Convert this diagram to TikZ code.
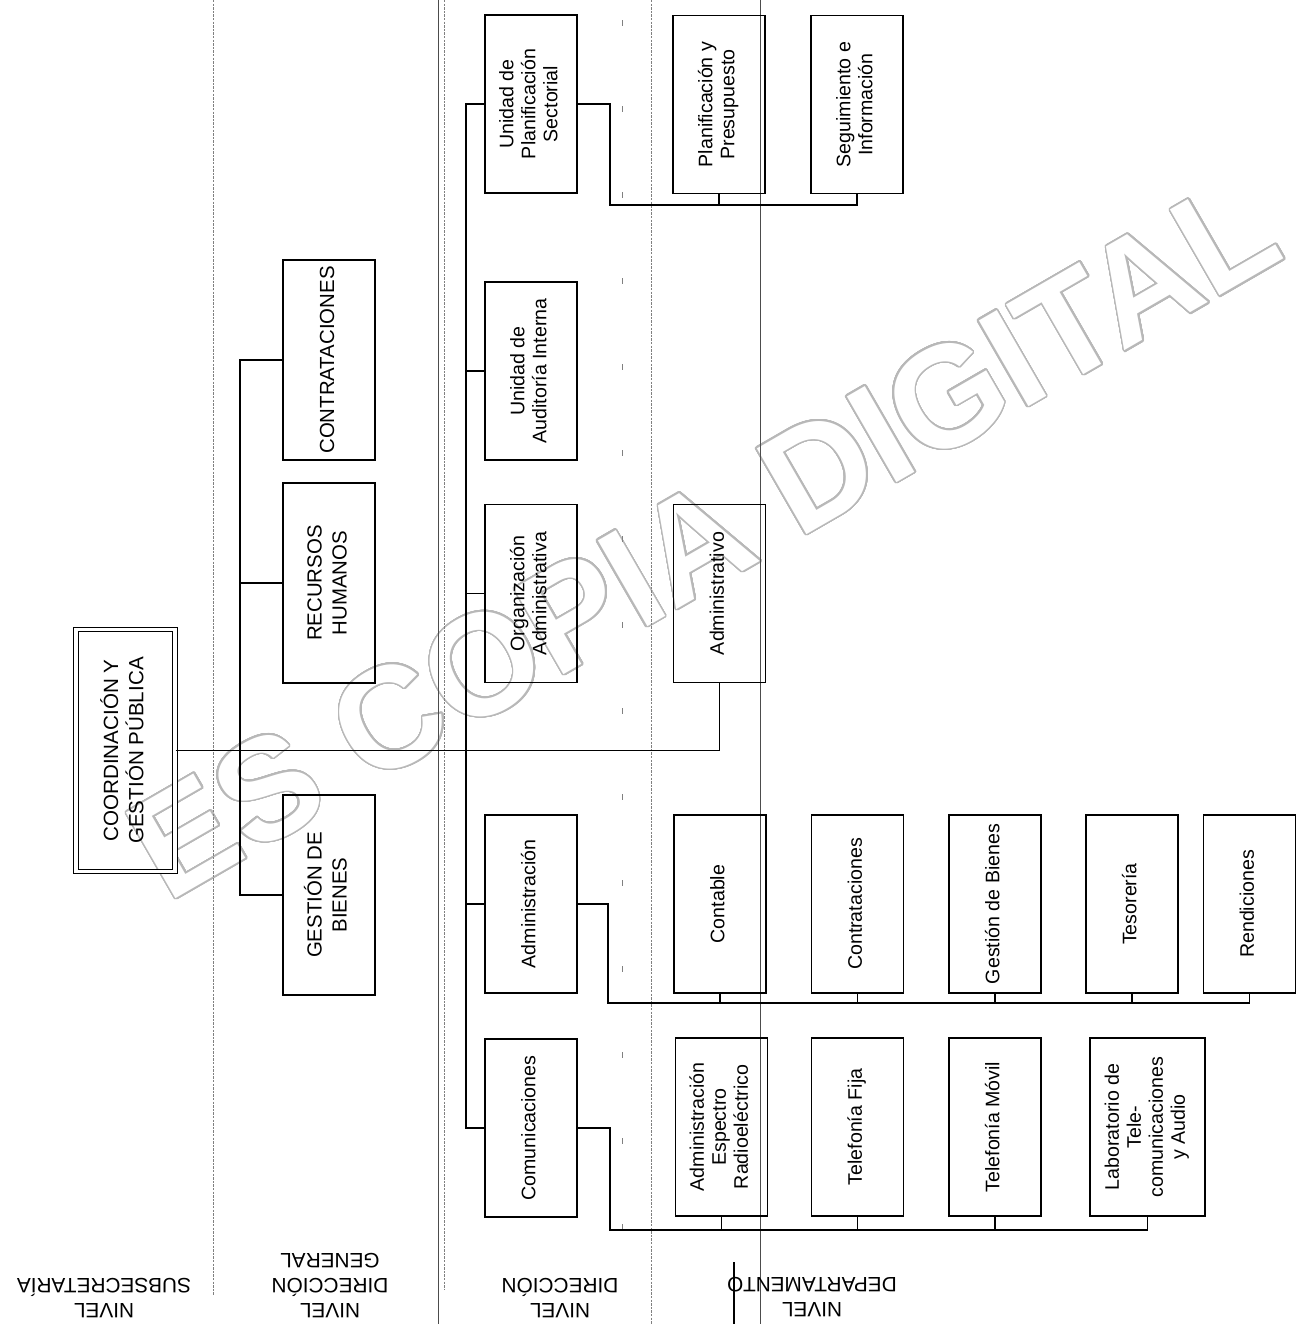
\documentclass[tikz,border=0pt]{standalone}
\usepackage{fontspec}
\setmainfont{Liberation Sans}
\usepackage{graphicx}
\usepackage{contour}
\usepackage{tikz}

\contournumber{48}
\contourlength{0.8pt}

\newcommand{\vlabel}[1]{\rotatebox{90}{\begin{tabular}{@{}c@{}}#1\end{tabular}}}

\begin{document}
\begin{tikzpicture}[x = 0.5pt, y = -0.5pt, line width = 0.6pt,
                        box/.style = {draw, line width = 0.75pt, inner sep = 0pt, minimum width = 46pt, minimum height = 89pt, font = \fontsize{9.8}{11}\selectfont},
                        general/.style = {box, minimum height = 100pt, font = \fontsize{10.2}{12.5}\selectfont},
                        head/.style = {draw, double, double distance = 1.6pt, line width = 0.6pt, inner sep = 0pt, minimum width = 49.5pt, minimum height = 121pt, font = \fontsize{10.3}{12.5}\selectfont},
                        sep/.style = {gray, line width = 0.4pt, dash pattern = on 1.2pt off 0.6pt},
                        rule/.style = {black!70, line width = 0.4pt},
                        nivel/.style = {rotate = 180, align = center, font = \fontsize{10.4}{12.5}\selectfont}]
      \useasboundingbox (0, 0) rectangle (1300, 1324);

      % watermark, behind everything
      \node [anchor = base, rotate = 30, text = white, font = \fontsize{72}{72}\bfseries\selectfont] (mark) at (728, 580)
            {\contour{black!28}{ES COPIA DIGITAL}};

      % level separators
      \draw [sep] (213, 0) -- (213, 1295);
      \draw [rule] (438, 0) -- (438, 1324);
      \draw [sep] (444, 0) -- (444, 1290);
      \draw [gray, line width = 0.4pt, dash pattern = on 3pt off 40pt] (622, 20) -- (622, 1260);
      \draw [sep] (651, 0) -- (651, 1324);
      \draw [rule] (760, 0) -- (760, 1324);
      \draw [line width = 1.4pt] (734, 1262) -- (734, 1324);

      % subsecretaria
      \node [head] (cgp) at (125.5, 750.5){\vlabel{COORDINACIÓN Y\\GESTIÓN PÚBLICA}};

      % direccion general
      \node [general] (contr) at (329, 360){\vlabel{CONTRATACIONES}};
      \node [general] (rrhh) at (329, 583){\vlabel{RECURSOS\\HUMANOS}};
      \node [general] (gbien) at (329, 895){\vlabel{GESTIÓN DE\\BIENES}};

      % direccion
      \node [box] (ups) at (531, 104){\vlabel{Unidad de\\Planificación\\Sectorial}};
      \node [box] (uai) at (531, 371){\vlabel{Unidad de\\Auditoría Interna}};
      \node [box] (oa) at (531, 593.5){\vlabel{Organización\\Administrativa}};
      \node [box] (adm) at (531, 904){\vlabel{Administración}};
      \node [box] (com) at (531, 1128){\vlabel{Comunicaciones}};

      % departamento
      \node [box] (pyp) at (719, 104.5){\vlabel{Planificación y\\Presupuesto}};
      \node [box] (seg) at (857, 104.5){\vlabel{Seguimiento e\\Información}};
      \node [box] (admvo) at (719.5, 593.5){\vlabel{Administrativo}};

      \node [box] (cont) at (720, 904){\vlabel{Contable}};
      \node [box] (ctrt) at (857.5, 904){\vlabel{Contrataciones}};
      \node [box] (gbd) at (995, 904){\vlabel{Gestión de Bienes}};
      \node [box] (teso) at (1132, 904){\vlabel{Tesorería}};
      \node [box] (rend) at (1249.5, 904){\vlabel{Rendiciones}};

      \node [box] (aer) at (721.5, 1127){\vlabel{Administración\\Espectro\\Radioeléctrico}};
      \node [box] (tfij) at (857.5, 1127){\vlabel{Telefonía Fija}};
      \node [box] (tmov) at (995, 1127){\vlabel{Telefonía Móvil}};
      \node [box, minimum width = 57.5pt] (lab) at (1147.5, 1127){\vlabel{Laboratorio de\\Tele-\\comunicaciones\\y Audio}};

      \coordinate (dgbus) at (240, 750);
      \coordinate (dbus) at (466, 750);
      \coordinate (upsturn) at (610, 205);
      \coordinate (admturn) at (608, 1003);
      \coordinate (comturn) at (610, 1230);

      \draw (cgp.east) -| (admvo.south);

      \draw (contr.west) -| (dgbus) |- (gbien.west);
      \draw (rrhh.west) -- (rrhh.west -| dgbus);

      \draw (ups.west) -| (dbus) |- (com.west);
      \draw (uai.west) -- (uai.west -| dbus);
      \draw (oa.west) -- (oa.west -| dbus);
      \draw (adm.west) -- (adm.west -| dbus);

      \draw (ups.east) -| (upsturn) -| (seg.south);
      \draw (pyp.south) -- (pyp.south |- upsturn);

      \draw (adm.east) -| (admturn) -| (rend.south);
      \draw (cont.south) -- (cont.south |- admturn);
      \draw (ctrt.south) -- (ctrt.south |- admturn);
      \draw (gbd.south) -- (gbd.south |- admturn);
      \draw (teso.south) -- (teso.south |- admturn);

      \draw (com.east) -| (comturn) -| (lab.south);
      \draw (aer.south) -- (aer.south |- comturn);
      \draw (tfij.south) -- (tfij.south |- comturn);
      \draw (tmov.south) -- (tmov.south |- comturn);

      % level names
      \node [nivel] (nsub) at (104, 1298){NIVEL\\SUBSECRETARÍA};
      \node [nivel] (ndg) at (330, 1286){NIVEL\\DIRECCIÓN\\GENERAL};
      \node [nivel] (ndir) at (560, 1298){NIVEL\\DIRECCIÓN};
      \node [nivel] (ndep) at (812, 1297){NIVEL\\DEPARTAMENTO};
      \end{tikzpicture}
\end{document}
